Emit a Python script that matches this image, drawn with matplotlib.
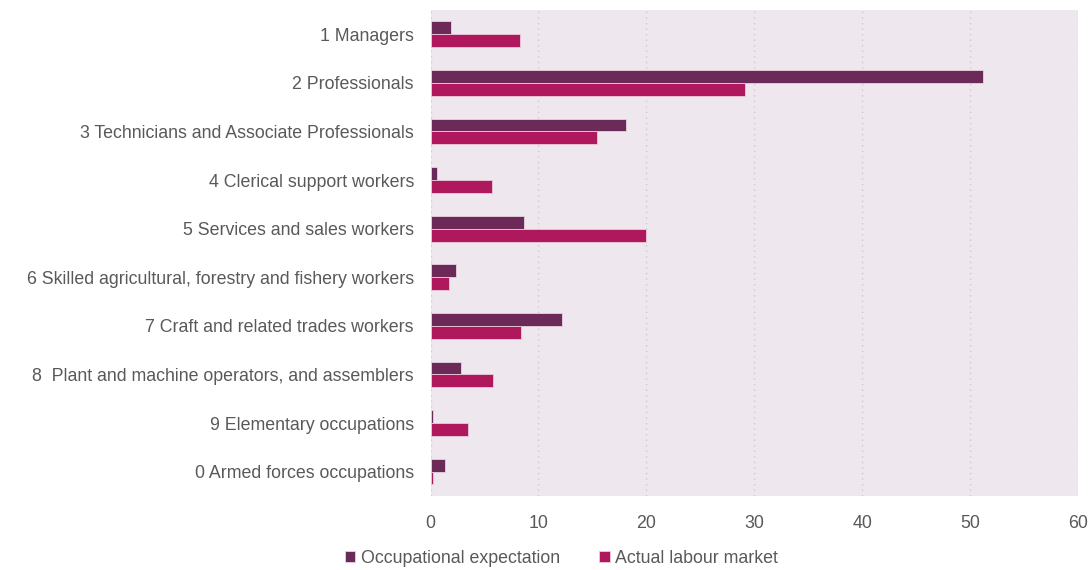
import numpy as np
import matplotlib.pyplot as plt

plt.rcParams['font.family'] = ['Liberation Sans', 'DejaVu Sans']

# Occupational groups (ISCO major groups)
categories = [
    '1 Managers',
    '2 Professionals',
    '3 Technicians and Associate Professionals',
    '4 Clerical support workers',
    '5 Services and sales workers',
    '6 Skilled agricultural, forestry and fishery workers',
    '7 Craft and related trades workers',
    '8  Plant and machine operators, and assemblers',
    '9 Elementary occupations',
    '0 Armed forces occupations',
]

# Percentages
expectation = [1.9, 51.2, 18.1, 0.6, 8.65, 2.4, 12.15, 2.8, 0.25, 1.3]
labour_market = [8.25, 29.1, 15.45, 5.7, 19.95, 1.7, 8.4, 5.8, 3.45, 0.25]

x_ticks = [0, 10, 20, 30, 40, 50, 60]

col_exp = '#6B2A57'
col_act = '#B0185E'
text_col = '#595959'

fig = plt.figure(figsize=(10.9, 5.7), dpi=100)
ax = fig.add_axes([0.395, 0.13, 0.594, 0.8525])
ax.set_facecolor('#EEE8EE')

y = np.arange(len(categories))
h = 0.265
ax.barh(y - h / 2, expectation, height=h, color=col_exp, edgecolor='#E6D5E0',
        linewidth=0.6, label='Occupational expectation', zorder=3)
ax.barh(y + h / 2, labour_market, height=h, color=col_act, edgecolor='#EBCBDA',
        linewidth=0.6, label='Actual labour market', zorder=3)

ax.set_ylim(len(categories) - 0.5, -0.5)
ax.set_xlim(0, 60)
ax.set_yticks(y)
ax.set_yticklabels(categories, fontsize=12.8, color=text_col)
ax.set_xticks(x_ticks)
ax.set_xticklabels([str(t) for t in x_ticks], fontsize=12.8, color=text_col)
ax.tick_params(axis='both', length=0)
ax.tick_params(axis='y', pad=12)
ax.tick_params(axis='x', pad=14)

ax.grid(axis='x', color='#CFC8CF', linestyle=(0, (1, 3)), linewidth=1, zorder=1)
for s in ax.spines.values():
    s.set_visible(False)

leg = fig.legend(loc='lower center', bbox_to_anchor=(0.515, -0.022), ncol=2,
                 frameon=False, fontsize=12.8, handlelength=0.6, handleheight=0.6,
                 handletextpad=0.3, columnspacing=2.2)
for t in leg.get_texts():
    t.set_color(text_col)

fig.savefig('out.png', dpi=100)
